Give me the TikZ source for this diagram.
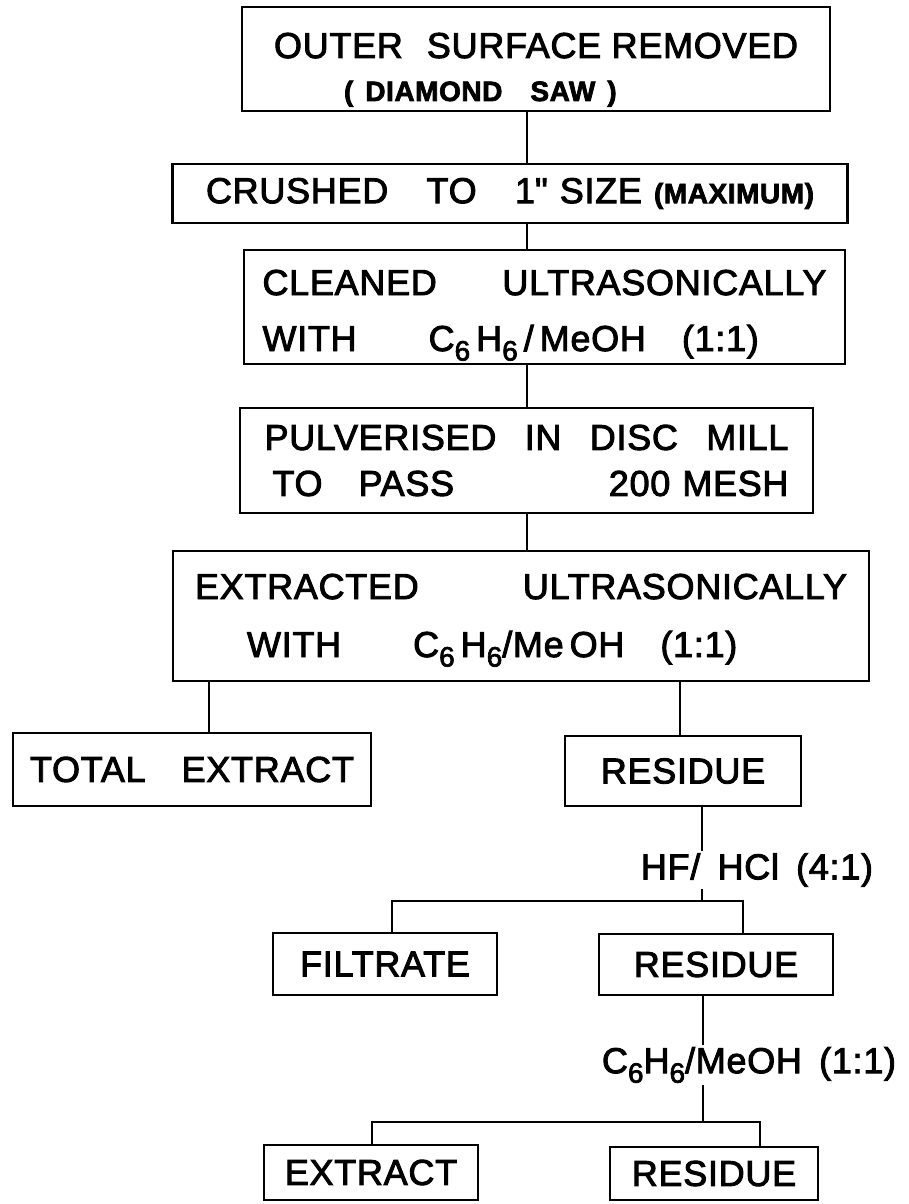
\documentclass[tikz,border=0pt]{standalone}
\usepackage{fontspec}
\setmainfont{Liberation Sans}[WordSpace=1.6, LetterSpace=2, FakeBold=2.5]
\usepackage{tikz}
\newcommand{\mainfs}{\fontsize{18}{25}\selectfont}
\newcommand{\smallfs}{\fontsize{14}{16}\selectfont\bfseries}
\newcommand{\lowsub}[1]{\raisebox{-0.5ex}{\fontsize{14}{14}\selectfont #1}}

\begin{document}
\begin{tikzpicture}[
  x=0.5pt, y=-0.5pt,
  stepbox/.style={
    draw, line width=1.4pt, inner sep=4pt,
    font=\mainfs
  },
  reagent/.style={
    font=\mainfs, inner sep=1pt
  },
  link/.style={
    line width=1.1pt
  }
]
  \useasboundingbox (0,0) rectangle (909,1204);

  % preparation of the sample
  \node[stepbox, inner ysep=0pt, minimum width=294pt, minimum height=52pt, text width=262pt, align=left] (outer) at (536,59)
    {\rule{0pt}{25.5pt}OUTER\ \ SURFACE\hfill REMOVED\\[-3.5pt]\hspace*{35pt}{\smallfs( DIAMOND\quad SAW )}\rule[-5pt]{0pt}{0pt}};
  \node[stepbox, minimum width=337.5pt, minimum height=29.5pt, text width=304pt, align=left] (crushed) at (510,193.5)
    {CRUSHED\hfill TO\hfill 1\textquotedbl\ SIZE {\smallfs(MAXIMUM)}};
  \node[stepbox, inner ysep=0pt, minimum width=300.5pt, minimum height=57pt, text width=282pt, align=left] (cleaned) at (544.5,307)
    {\rule{0pt}{22.5pt}CLEANED\hfill ULTRASONICALLY\\[3pt]WITH\qquad C\lowsub{6}\,H\lowsub{6}\,/\,MeOH\quad(1:1)\rule[-6.5pt]{0pt}{0pt}};
  \node[stepbox, minimum width=286.5pt, minimum height=52.5pt, text width=262pt, align=left] (pulver) at (526.5,460.5)
    {PULVERISED\hfill IN\hfill DISC\hfill MILL\\[-2pt]\hspace*{4pt}TO\quad PASS\hfill 200 MESH};
  \node[stepbox, inner ysep=0pt, minimum width=348pt, minimum height=65pt, text width=326pt, align=left] (extracted) at (521,616)
    {\rule{0pt}{24pt}EXTRACTED\hfill ULTRASONICALLY\\[4pt]\hspace*{26pt}WITH\qquad C\lowsub{6}\,H\lowsub{6}/Me\,OH\quad(1:1)\rule[-12pt]{0pt}{0pt}};

  % first split
  \node[stepbox, minimum width=179pt, minimum height=36.5pt] (total) at (192,769.5) {TOTAL\quad EXTRACT};
  \node[stepbox, minimum width=118pt, minimum height=35pt] (residueA) at (683,771) {RESIDUE};

  % acid treatment
  \node[reagent] (acid) at (757,870) {HF/\ HCl (4:1)};
  \node[stepbox, minimum width=112pt, minimum height=31pt] (filtrate) at (385,964) {FILTRATE};
  \node[stepbox, minimum width=117pt, minimum height=30.5pt] (residueB) at (716,964.5) {RESIDUE};

  % solvent extraction
  \node[reagent] (solvent) at (749,1065) {C\lowsub{6}H\lowsub{6}/MeOH (1:1)};
  \node[stepbox, minimum width=107pt, minimum height=27.5pt] (extract) at (371,1172.5) {EXTRACT};
  \node[stepbox, minimum width=104pt, minimum height=26.5pt] (residueC) at (714,1173.5) {RESIDUE};

  % connectors
  \coordinate (spine) at (527,0);
  \draw[link] (outer.south -| spine) -- (crushed.north -| spine);
  \draw[link] (crushed.south -| spine) -- (cleaned.north -| spine);
  \draw[link] (cleaned.south -| spine) -- (pulver.north -| spine);
  \draw[link] (pulver.south -| spine) -- (extracted.north -| spine);

  \coordinate (leftdrop) at (209,0);
  \coordinate (rightdrop) at (680,0);
  \draw[link] (extracted.south -| leftdrop) -- (total.north -| leftdrop);
  \draw[link] (extracted.south -| rightdrop) -- (residueA.north -| rightdrop);

  \coordinate (acidsplit) at (702,901);
  \coordinate (filtdrop) at (392,0);
  \coordinate (resdrop) at (743,0);
  \draw[link] (residueA.south -| acidsplit) -- (acid.north -| acidsplit);
  \draw[link] (acid.south -| acidsplit) -- (acidsplit);
  \draw[link] (filtrate.north -| filtdrop) |- (acidsplit) -| (residueB.north -| resdrop);

  \coordinate (solvsplit) at (703,1122);
  \coordinate (extdrop) at (372,0);
  \coordinate (lastdrop) at (760,0);
  \draw[link] (residueB.south -| solvsplit) -- (solvent.north -| solvsplit);
  \draw[link] (solvent.south -| solvsplit) -- (solvsplit);
  \draw[link] (extract.north -| extdrop) |- (solvsplit) -| (residueC.north -| lastdrop);
\end{tikzpicture}
\end{document}
